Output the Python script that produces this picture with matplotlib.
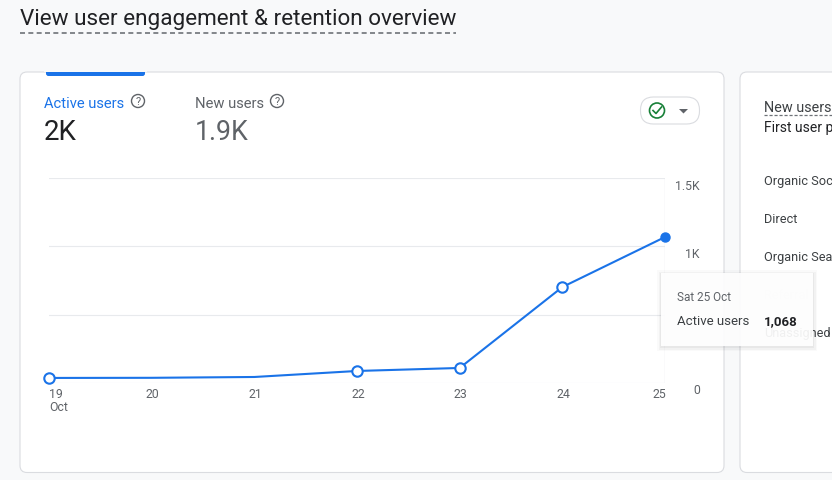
import matplotlib
matplotlib.use('Agg')
import matplotlib.pyplot as plt
from matplotlib.patches import FancyBboxPatch, Rectangle, Circle

days = [19, 20, 21, 22, 23, 24, 25]
active_users = [37, 38, 44, 88, 110, 702, 1068]
open_marker_days = [19, 22, 23, 24]
y_ticks = [0, 500, 1000, 1500]
y_labels = ['0', '', '1K', '1.5K']
source_labels = ['Organic Soc', 'Direct', 'Organic Sea']

W, H = 832, 481
BLUE = '#1a73e8'
GREY = '#5f6368'
DARK = '#202124'
plt.rcParams['font.family'] = ['Roboto', 'DejaVu Sans']

fig = plt.figure(figsize=(W / 100, H / 100), dpi=100, facecolor='#f8f9fa')

# page layer in pixel coordinates
bg = fig.add_axes([0, 0, 1, 1])
bg.set_xlim(0, W)
bg.set_ylim(H - 1, -1)
bg.axis('off')


def card(x, y, w, h):
    bg.add_patch(FancyBboxPatch((x, y), w, h, boxstyle='round,pad=0,rounding_size=7',
                                fc='white', ec='#dadce0', lw=0.8, mutation_aspect=1))


def help_icon(x, y):
    bg.add_patch(Circle((x, y), 6.5, fc='none', ec=GREY, lw=1))
    bg.text(x, y + 0.3, '?', fontsize=8, color=GREY, ha='center', va='center')


bg.text(20, 19, 'View user engagement & retention overview', fontsize=16.2, color=DARK, va='center')
bg.plot([20, 456], [32.5, 32.5], color='#6f7378', lw=1.2, dashes=(3, 2))

card(20, 72, 704, 400.5)
card(740, 72, 110, 400.5)

# selected tab indicator
bg.add_patch(FancyBboxPatch((46, 68), 99, 8, boxstyle='round,pad=0,rounding_size=2.5', fc=BLUE, ec='none'))
bg.add_patch(Rectangle((44, 62), 103, 10, fc='#f8f9fa', ec='none'))

bg.text(44, 103, 'Active users', fontsize=10.6, color=BLUE, va='center')
help_icon(138, 101)
bg.text(44, 132, '2K', fontsize=20, color=DARK, va='center')
bg.text(195, 103, 'New users', fontsize=10.6, color=GREY, va='center')
help_icon(277, 101)
bg.text(195, 132, '1.9K', fontsize=19.3, color=GREY, va='center')

# status button
bg.add_patch(FancyBboxPatch((640.5, 97), 59, 27, boxstyle='round,pad=0,rounding_size=13',
                            fc='white', ec='#dadce0', lw=0.8))
bg.add_patch(Circle((657, 110.5), 7.5, fc='none', ec='#188038', lw=1.2))
bg.plot([653, 656, 661.5], [110.5, 113.5, 107], color='#188038', lw=1.2)
bg.fill([679, 688, 683.5], [109, 109, 113.5], color=GREY, lw=0)

# right card, only the part the reference shows
bg.text(764, 107, 'New users', fontsize=10.4, color='#3c4043', va='center')
bg.plot([764, 832], [114.5, 114.5], color='#6f7378', lw=0.9, dashes=(2.5, 1.5))
bg.text(764, 127, 'First user p', fontsize=10, color=DARK, va='center')
for label, y in zip(source_labels, [181, 219, 257]):
    bg.text(764, y, label, fontsize=9.2, color='#3c4043', va='center')
bg.text(764, 295, 'Referral', fontsize=9.2, color='#f1f2f3', va='center', zorder=6)
bg.text(764, 333, 'Unassigned', fontsize=9.2, color='#3c4043', va='center')

# line chart
ax = fig.add_axes([49 / W, 1 - 384 / H, (665 - 49) / W, (383 - 178) / H], facecolor='none')
ax.set_xlim(19, 25)
ax.set_ylim(0, 1500)
for s in ax.spines.values():
    s.set_visible(False)
ax.set_yticks(y_ticks)
ax.set_yticklabels([])
ax.set_xticks(days)
ax.set_xticklabels([])
ax.tick_params(length=0)
ax.grid(axis='y', color='#e8eaed', lw=0.8)
ax.set_axisbelow(True)
ax.axvline(25, color='#e8eaed', lw=1, zorder=1)

ax.plot(days, active_users, color=BLUE, lw=1.5, zorder=3, clip_on=False, solid_capstyle='round')
ax.plot(open_marker_days, [active_users[days.index(d)] for d in open_marker_days], 'o', ms=7.5,
        mfc='white', mec=BLUE, mew=1.5, ls='none', zorder=4, clip_on=False)
ax.plot(days[-1], active_users[-1], 'o', ms=6.5, mfc=BLUE, mec=BLUE, ls='none', zorder=4, clip_on=False)

for d in days:
    if d == 19:
        ax.annotate('19', (d, 0), xytext=(0, -4), textcoords='offset pixels', fontsize=8.8,
                    color=GREY, ha='left', va='top')
        ax.annotate('Oct', (d, 0), xytext=(0, -17), textcoords='offset pixels', fontsize=8.8,
                    color=GREY, ha='left', va='top')
    else:
        off = -6 if d == 25 else 1
        ax.annotate(str(d), (d, 0), xytext=(off, -4), textcoords='offset pixels', fontsize=8.8,
                    color=GREY, ha='center', va='top')
for val, lab in zip(y_ticks, y_labels):
    ax.annotate(lab, (25, val), xytext=(35, -7), textcoords='offset pixels', fontsize=8.8,
                color=GREY, ha='right', va='center')

# tooltip
top = fig.add_axes([0, 0, 1, 1], facecolor='none')
top.set_xlim(0, W)
top.set_ylim(H - 1, -1)
top.axis('off')
for pad, alpha in [(4, 0.02), (2.5, 0.03), (1, 0.04)]:
    top.add_patch(Rectangle((661 - pad, 273 - pad + 1), 152 + 2 * pad, 73 + 2 * pad, fc='black', alpha=alpha, ec='none'))
top.add_patch(Rectangle((661, 273), 152, 73, fc='white', alpha=0.93, ec='none'))
top.text(677, 297, 'Sat 25 Oct', fontsize=8.5, color=GREY, va='center')
top.text(677, 321, 'Active users', fontsize=9.5, color='#3c4043', va='center')
top.text(764, 321, '1,068', fontsize=9.5, color=DARK, va='center', weight='bold')

fig.savefig('out.png', dpi=100, facecolor=fig.get_facecolor())
